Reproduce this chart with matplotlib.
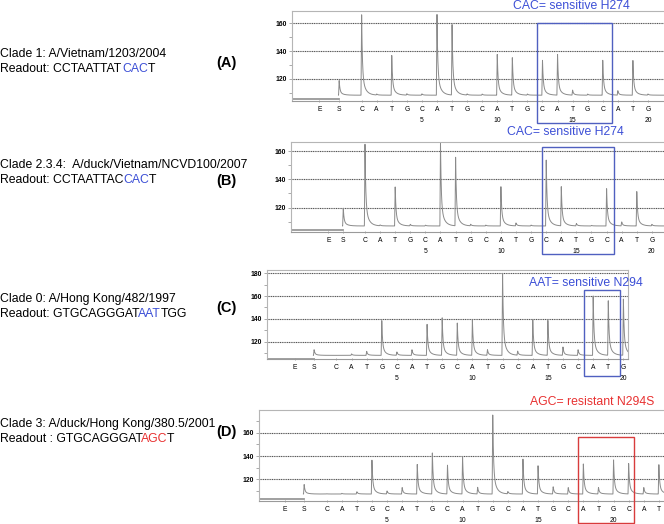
import numpy as np
import matplotlib
matplotlib.use('Agg')
import matplotlib.pyplot as plt
from matplotlib import ft2font, font_manager
from matplotlib.patches import Rectangle

plt.rcParams['font.family'] = ['Liberation Sans', 'DejaVu Sans']

W, H = 664, 524

# dispensation order after E and S
dispensation = list("CATGCATGCATGCATGCATGCAT")

# peak heights (signal units), one per dispensation
peaks_a = [167, 108.9, 137.1, 109.2, 109.2, 168.2, 160, 109, 109, 138.1,
           136.1, 109, 134, 138, 111.8, 109, 134, 111.5, 134, 109]
peaks_b = [165.2, 107.5, 135.2, 108, 107.5, 166.2, 156.7, 108, 107.5, 135.7,
           109, 107.5, 155.7, 134.8, 108.6, 107.3, 133.6, 109.8, 131.7, 108]
peaks_c = [108, 109.3, 111.6, 139.2, 111, 113, 135.8, 141.6, 136.9, 139.8,
           113, 181.5, 111.6, 140.1, 139.2, 115.4, 113, 161.1, 156.7, 158.2]
peaks_d = [107.6, 108, 109.4, 136.6, 110, 113.1, 133.1, 143.1, 133.1, 140,
           113.1, 178, 109.4, 137.4, 132.3, 113.7, 112.9, 133.7, 113.1, 137.1,
           133.7, 113.1, 133.1]

# baseline before S, baseline after S, S peak
base_a = (105.1, 108.2, 118.8)
base_b = (103.8, 106.9, 120.0)
base_c = (105.2, 108.0, 113.0)
base_d = (103.1, 107.4, 115.7)

# E and S positions on the dispensation axis
es_a = (-1.81, -0.49)
es_b = (-1.43, -0.44)
es_c = (-1.76, -0.48)
es_d = (-1.76, -0.49)

clade_a = "Clade 1: A/Vietnam/1203/2004"
clade_b = "Clade 2.3.4:  A/duck/Vietnam/NCVD100/2007"
clade_c = "Clade 0: A/Hong Kong/482/1997"
clade_d = "Clade 3: A/duck/Hong Kong/380.5/2001"

BLUE = '#3c4fd6'
RED = '#e83030'
readout_a = [("Readout: CCTAATTAT", 'black'), ("CAC", BLUE), ("T", 'black')]
readout_b = [("Readout: CCTAATTAC", 'black'), ("CAC", BLUE), ("T", 'black')]
readout_c = [("Readout: GTGCAGGGAT", 'black'), ("AAT", BLUE), ("TGG", 'black')]
readout_d = [("Readout : GTGCAGGGAT", 'black'), ("AGC", RED), ("T", 'black')]

call_a = ("CAC= sensitive H274", BLUE)
call_b = ("CAC= sensitive H274", BLUE)
call_c = ("AAT= sensitive N294", BLUE)
call_d = ("AGC= resistant N294S", RED)

fig = plt.figure(figsize=(W / 100, H / 100), dpi=100)
FS = 8.8

# glyph advances, used to butt the coloured pieces of a readout together
_font = ft2font.FT2Font(font_manager.findfont(
    font_manager.FontProperties(family='Liberation Sans')))
_font.set_size(FS, 100)


def advance(s):
    return 0.978 * sum(_font.load_char(ord(c)).linearHoriAdvance for c in s) / 65536


def fpos(x, y):
    return x / W, 1 - y / H


def add_axes(left, top, bottom, x0, x1, px_per_unit):
    width = (x1 - x0) * px_per_unit
    return fig.add_axes([left / W, 1 - bottom / H, width / W, (bottom - top) / H])


def pyrogram(ax, peaks, base, es, xlim, ylim, grid_vals):
    pre, post, s_peak = base
    e_pos, s_pos = es
    x = np.linspace(xlim[0], xlim[1], 6000)
    pos = np.arange(1, len(peaks) + 1)

    def shape(d):
        rise = np.clip(1 + d / 0.04, 0, 1) * (d < 0)
        fall = (0.75 * np.exp(-np.clip(d, 0, None) / 0.05)
                + 0.25 * np.exp(-np.clip(d, 0, None) / 0.22)) * (d >= 0)
        return rise + fall

    y = np.full_like(x, post)
    y += (s_peak - post) * shape(x - s_pos)
    for p, h in zip(pos, peaks):
        y += (h - post) * shape(x - p)
    keep = x >= s_pos - 0.05
    ax.plot(x[keep], y[keep], color='#8a8a8a', lw=0.7)
    ax.plot([xlim[0], s_pos], [pre, pre], color='#999999', lw=1.3)

    ax.set_xlim(*xlim)
    ax.set_ylim(*ylim)
    for g in grid_vals:
        ax.axhline(g, color='#555555', lw=0.8, ls=(0, (1, 0.6)), zorder=0)

    ticks = [e_pos, s_pos] + list(pos)
    labels = ['E', 'S'] + dispensation[:len(peaks)]
    labels = [l + ('\n%d' % t if (isinstance(t, (int, np.integer)) and t % 5 == 0) else '')
              for l, t in zip(labels, ticks)]
    ax.set_xticks(ticks)
    ax.set_xticklabels(labels, fontsize=4.9, linespacing=1.9)
    ax.tick_params(axis='x', length=2, width=0.5, color='#888888', pad=2.5, direction='inout')
    ax.set_yticks(grid_vals)
    ax.set_yticklabels([str(g) for g in grid_vals], fontsize=4.9, fontweight='bold')
    ax.set_yticks(np.arange(110, ylim[1], 20), minor=True)
    ax.tick_params(axis='y', which='both', length=2, width=0.5, color='#888888', pad=1.5)
    for side in ['top', 'left', 'right']:
        ax.spines[side].set_color('#b5b5b5')
        ax.spines[side].set_linewidth(0.8)
    ax.spines['bottom'].set_color('#9a9a9a')
    ax.spines['bottom'].set_linewidth(0.8)
    ax.patch.set_alpha(0)


def box(ax, x0, x1, y0, y1, color):
    ax.add_patch(Rectangle((x0, y0), x1 - x0, y1 - y0, fill=False,
                           ec=color, lw=1.0, clip_on=False, zorder=5))


def readout_line(x, y, parts):
    for txt, col in parts:
        fig.text(*fpos(x, y), txt, fontsize=FS, color=col, va='center', ha='left')
        x += advance(txt)


# panel A
ax = add_axes(292, 11, 101, -3.62, 22, 15.07)
pyrogram(ax, peaks_a, base_a, es_a, (-3.62, 22), (104.0, 168.9), [120, 140, 160])
box(ax, 12.63, 17.61, 88.4, 160, '#5060c0')
fig.text(*fpos(571, 6), call_a[0], fontsize=8.8, color=call_a[1], ha='center', va='center')

# panel B
ax = add_axes(291, 142, 232, -3.9, 22, 15.1)
pyrogram(ax, peaks_b, base_b, es_b, (-3.9, 22), (102.6, 166.6), [120, 140, 160])
box(ax, 12.72, 17.49, 87.1, 162.9, '#5060c0')
fig.text(*fpos(565, 132), call_b[0], fontsize=8.8, color=call_b[1], ha='center', va='center')

# panel C
ax = add_axes(267, 270, 359, -3.6, 20.3, 15.1)
pyrogram(ax, peaks_c, base_c, es_c, (-3.6, 20.3), (104.8, 182.9), [120, 140, 160, 180])
box(ax, 17.38, 19.76, 89.6, 165.2, '#5060c0')
fig.text(*fpos(586, 283), call_c[0], fontsize=8.8, color=call_c[1], ha='center', va='center')

# panel D
ax = add_axes(259, 410, 501, -3.48, 24, 15.1)
pyrogram(ax, peaks_d, base_d, es_d, (-3.48, 24), (101.4, 179.5), [120, 140, 160])
box(ax, 17.64, 21.36, 82.5, 156.3, '#d83c3c')
fig.text(*fpos(592, 402), call_d[0], fontsize=8.8, color=call_d[1], ha='center', va='center')

# left-hand labels
for y1, clade, readout, letter, ly in [(54, clade_a, readout_a, '(A)', 63),
                                       (165, clade_b, readout_b, '(B)', 181),
                                       (299, clade_c, readout_c, '(C)', 308),
                                       (424, clade_d, readout_d, '(D)', 432)]:
    fig.text(*fpos(0, y1), clade, fontsize=FS, va='center', ha='left')
    readout_line(0, y1 + 15, readout)
    fig.text(*fpos(226, ly), letter, fontsize=10.5, fontweight='bold', ha='center', va='center')

fig.savefig('out.png', dpi=100)
